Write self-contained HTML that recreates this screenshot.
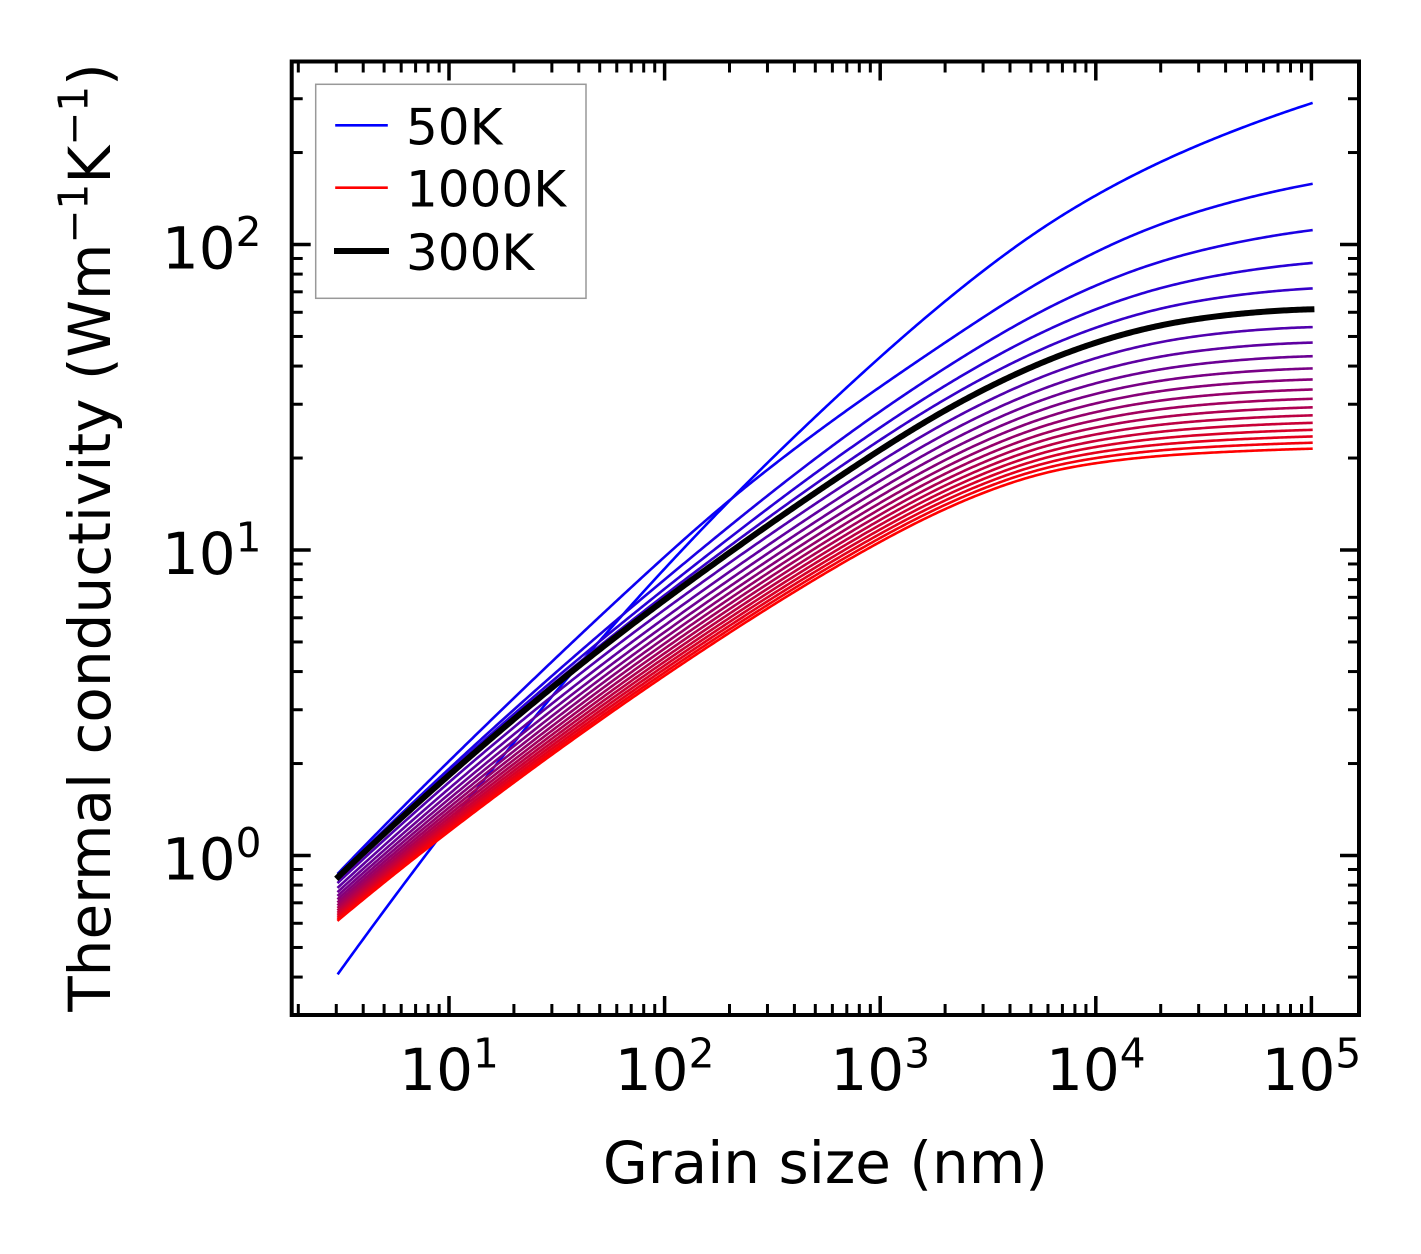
<!DOCTYPE html>
<html>
<head>
<meta charset="utf-8">
<style>
  html, body { margin: 0; padding: 0; background: #fff; }
  svg { display: block; }
  text { font-family: "DejaVu Sans", "Liberation Sans", sans-serif; fill: #000; }
</style>
</head>
<body>
<svg id="s" width="1421" height="1254" viewBox="0 0 1421 1254" xmlns="http://www.w3.org/2000/svg">
  <rect x="0" y="0" width="1421" height="1254" fill="#fff"/>
  <g id="curves" fill="none" stroke-linecap="square" stroke-linejoin="round"></g>
  <g id="ticks" stroke="#000" stroke-linecap="butt"></g>
  <rect x="291.7" y="61.5" width="1067.3" height="953.5" fill="none" stroke="#000" stroke-width="4"/>

  <!-- Legend -->
  <rect x="315.7" y="84.3" width="270.3" height="214" fill="#fff" stroke="#999" stroke-width="1.5"/>
  <line x1="336.5" y1="125.3" x2="386.5" y2="125.3" stroke="#0000ff" stroke-width="2.6" stroke-linecap="square"/>
  <line x1="336.5" y1="187.7" x2="386.5" y2="187.7" stroke="#ff0000" stroke-width="2.6" stroke-linecap="square"/>
  <line x1="337" y1="251" x2="386" y2="251" stroke="#000" stroke-width="6" stroke-linecap="square"/>
  <text x="406" y="144.3" font-size="50">50K</text>
  <text x="406" y="206.7" font-size="50">1000K</text>
  <text x="406" y="269.8" font-size="50">300K</text>

  <!-- X tick labels -->
  <text x="449" y="1090" font-size="58" text-anchor="middle">10<tspan font-size="40.6" dy="-22.4">1</tspan></text>
  <text x="664.6" y="1090" font-size="58" text-anchor="middle">10<tspan font-size="40.6" dy="-22.4">2</tspan></text>
  <text x="880.2" y="1090" font-size="58" text-anchor="middle">10<tspan font-size="40.6" dy="-22.4">3</tspan></text>
  <text x="1095.8" y="1090" font-size="58" text-anchor="middle">10<tspan font-size="40.6" dy="-22.4">4</tspan></text>
  <text x="1311.4" y="1090" font-size="58" text-anchor="middle">10<tspan font-size="40.6" dy="-22.4">5</tspan></text>

  <!-- Y tick labels -->
  <text x="261.5" y="879.3" font-size="58" text-anchor="end">10<tspan font-size="40.6" dy="-22.4">0</tspan></text>
  <text x="261.5" y="573.8" font-size="58" text-anchor="end">10<tspan font-size="40.6" dy="-22.4">1</tspan></text>
  <text x="261.5" y="268.3" font-size="58" text-anchor="end">10<tspan font-size="40.6" dy="-22.4">2</tspan></text>

  <!-- Axis titles -->
  <text x="825.4" y="1183" font-size="58" text-anchor="middle">Grain size (nm)</text>
  <text transform="translate(110,537.5) rotate(-90)" x="0" y="0" font-size="58" text-anchor="middle">Thermal conductivity (Wm<tspan font-size="40.6" dy="-22.4">−1</tspan><tspan dy="22.4">K</tspan><tspan font-size="40.6" dy="-22.4">−1</tspan><tspan dy="22.4">)</tspan></text>
</svg>

<script>
(function(){
  var NS = 'http://www.w3.org/2000/svg';
  function X(u){ return 449 + 215.6*(u-1); }
  function Yv(v){ return 855.5 - 305.5*v; }

  var U = [0.487, 1, 1.5, 2, 2.5, 3, 3.5, 4, 4.5, 5];

  function pchip(xs, ys){
    var n = xs.length, h=[], d=[], m=[];
    for (var i=0;i<n-1;i++){ h.push(xs[i+1]-xs[i]); d.push((ys[i+1]-ys[i])/h[i]); }
    m[0] = d[0]; m[n-1] = d[n-2];
    for (var k=1;k<n-1;k++){
      if (d[k-1]*d[k] <= 0) m[k] = 0;
      else {
        var w1 = 2*h[k]+h[k-1], w2 = h[k]+2*h[k-1];
        m[k] = (w1+w2)/(w1/d[k-1] + w2/d[k]);
      }
    }
    return function(x){
      var i = 0;
      while (i < n-2 && x > xs[i+1]) i++;
      var hh = h[i], t = (x-xs[i])/hh;
      var t2=t*t, t3=t2*t;
      return (2*t3-3*t2+1)*ys[i] + (t3-2*t2+t)*hh*m[i] + (-2*t3+3*t2)*ys[i+1] + (t3-t2)*hh*m[i+1];
    };
  }

  var N = 500;
  var US = [];
  for (var k=0;k<=N;k++) US.push(U[0] + (5-U[0])*k/N);

  // Build a smooth anchor curve from slope profile (px per decade, upward positive)
  function anchor(y0, yEnd, slopes){
    var sf = pchip(U, slopes);
    var I = [0];
    for (var k=1;k<=N;k++){
      var um = 0.5*(US[k-1]+US[k]);
      I.push(I[k-1] + sf(um)*(US[k]-US[k-1]));
    }
    var sc = (y0 - yEnd)/I[N];
    var out = [];
    for (var j=0;j<=N;j++) out.push(y0 - sc*I[j]);
    return out;
  }

  var A50   = anchor(973.3, 103.3, [300, 280, 256, 233, 211, 193, 165, 122, 90, 70]);
  var A100  = anchor(873,   184,   [225, 212, 205, 195, 168, 150, 140, 105, 65, 40]);
  var A300  = anchor(876.7, 309.3, [205, 190, 175, 160, 150, 138, 108, 70, 30, 6]);
  var A1000 = anchor(920,   448.7, [180, 166, 156, 146, 135, 118, 82, 32, 12, 6]);

  function curveY(T){
    var out = [], j;
    if (T === 50) return A50;
    if (T <= 300){
      var f = Math.log(T/100)/Math.log(3);
      var g = Math.pow(f, 0.6);
      for (j=0;j<=N;j++){
        var u = US[j];
        var w = 1/(1+Math.exp((u-2.5)/0.25));
        var fe = f + (g-f)*w;
        out.push(A100[j] + fe*(A300[j]-A100[j]));
      }
    } else {
      var f2 = Math.log(T/300)/Math.log(10/3);
      for (j=0;j<=N;j++) out.push(A300[j] + f2*(A1000[j]-A300[j]));
    }
    return out;
  }

  var g = document.getElementById('curves');
  function drawCurve(T, color, width){
    var ys = curveY(T), pts = [];
    for (var k=0;k<=N;k++) pts.push(X(US[k]).toFixed(2)+','+ys[k].toFixed(2));
    var p = document.createElementNS(NS,'path');
    p.setAttribute('d','M'+pts.join(' L'));
    p.setAttribute('stroke',color);
    p.setAttribute('stroke-width',width);
    g.appendChild(p);
  }
  for (var T=50; T<=1000; T+=50){
    var i = T/50 - 1;
    var r = Math.round(255*i/19), b = 255 - r;
    drawCurve(T, 'rgb('+r+',0,'+b+')', 2.6);
  }
  drawCurve(300, '#000', 6);

  var tg = document.getElementById('ticks');
  function line(x1,y1,x2,y2,w){
    var l = document.createElementNS(NS,'line');
    l.setAttribute('x1',x1); l.setAttribute('y1',y1);
    l.setAttribute('x2',x2); l.setAttribute('y2',y2);
    l.setAttribute('stroke-width',w);
    tg.appendChild(l);
  }
  var L=291.7, R=1359, TOP=61.5, B=1015, MAJ=19, MIN=11;
  for (var u=1; u<=5; u++){
    var x = X(u);
    line(x,B,x,B-MAJ,3.5); line(x,TOP,x,TOP+MAJ,3.5);
  }
  for (var n=0;n<=4;n++){
    for (var m=2;m<=9;m++){
      var xx = X(n+Math.log10(m));
      if (xx>294 && xx<1357){ line(xx,B,xx,B-MIN,3); line(xx,TOP,xx,TOP+MIN,3); }
    }
  }
  for (var v=0; v<=2; v++){
    var y = Yv(v);
    line(L,y,L+MAJ,y,3.5); line(R,y,R-MAJ,y,3.5);
  }
  for (var n2=-1;n2<=2;n2++){
    for (var m2=2;m2<=9;m2++){
      var yy = Yv(n2+Math.log10(m2));
      if (yy>63.5 && yy<1013){ line(L,yy,L+MIN,yy,3); line(R,yy,R-MIN,yy,3); }
    }
  }
})();
</script>
</body>
</html>
